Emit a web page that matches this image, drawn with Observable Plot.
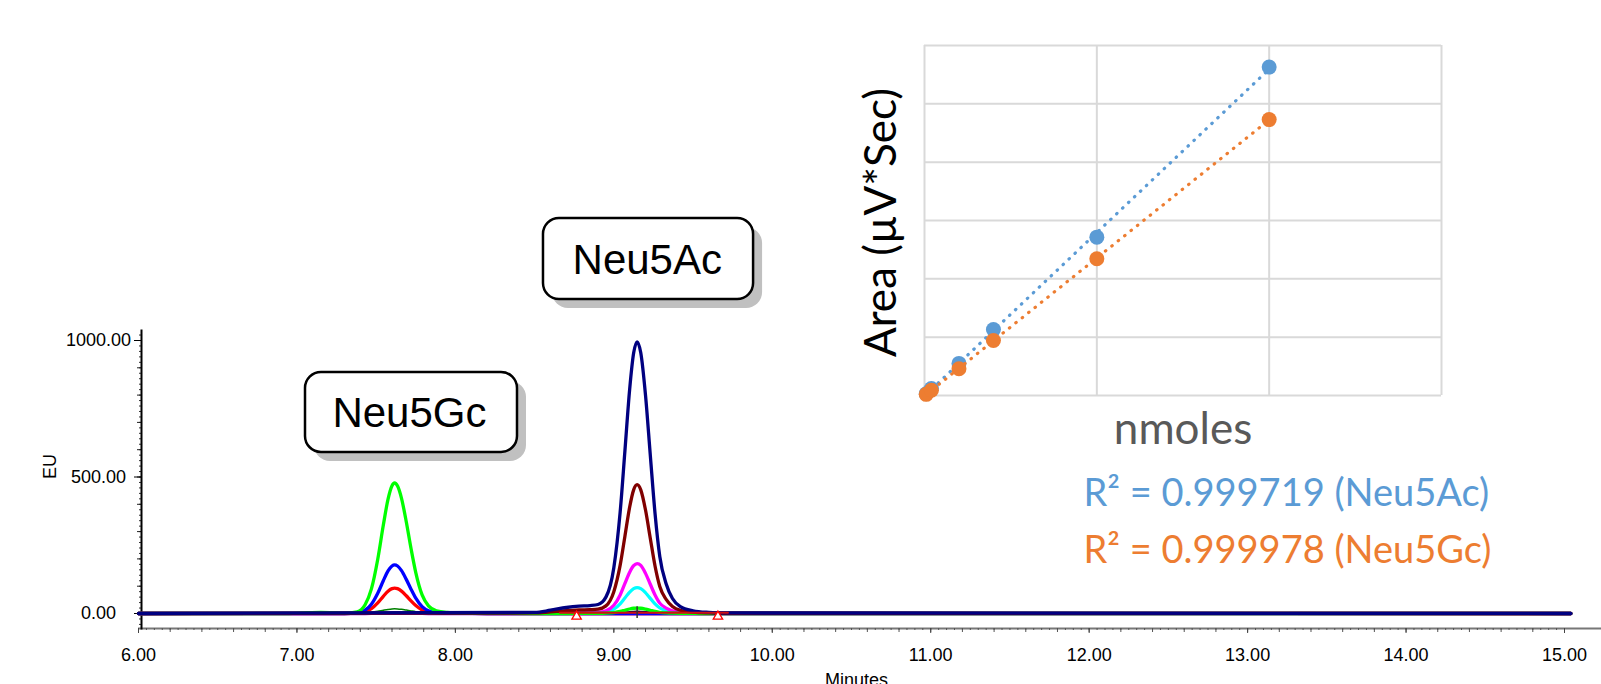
<!DOCTYPE html>
<html><head><meta charset="utf-8">
<script src="https://cdn.jsdelivr.net/npm/d3@7"></script>
<script src="https://cdn.jsdelivr.net/npm/@observablehq/plot@0.6"></script>
<style>
html,body{margin:0;padding:0;background:#fff;}
#wrap{position:relative;width:1601px;height:684px;overflow:hidden;background:#fff;}
#wrap svg{position:absolute;left:0;top:0;}
</style></head><body><div id="wrap"></div>
<script>
// ---------------- Chromatogram data (Minutes vs EU) ----------------
const xTickLabels = [6, 7, 8, 9, 10, 11, 12, 13, 14, 15];
const yTickLabels = [0, 500, 1000];
const runStart = 6.0, runEnd = 15.04;

// Neu5Gc peak window
const tGc = [7.30, 7.38, 7.43, 7.47, 7.51, 7.545, 7.575, 7.60, 7.616, 7.635, 7.66, 7.69, 7.72, 7.75, 7.79, 7.83, 7.88, 7.95, 8.05, 8.20];
const greenGc = [0.5, 6, 32, 90, 199, 323, 419, 468, 478, 467, 422, 336, 238, 150, 68, 28, 10, 4, 1.5, 0.5];
const blueGc = [0, 2.3, 12, 34, 74, 120, 156, 174, 178, 174, 157, 125, 89, 56, 25, 10, 3.6, 1.4, 0.5, 0];
const redGc = [0, 1.2, 6.2, 17.6, 38.7, 62.8, 81.6, 91, 93, 91, 82, 65, 46, 29, 13, 5.4, 1.9, 0.7, 0.3, 0];
const darkGreenGc = [2, 2.2, 3, 4.8, 8.2, 12, 15, 16.7, 17, 16.7, 15.2, 12.5, 9.5, 6.7, 4.1, 2.9, 2.3, 2.1, 2, 2];
const violetGc = [-3, -3, -2.6, -1.8, -0.5, 1.2, 2.5, 3.3, 3.5, 3.3, 2.8, 1.8, 0.7, -0.3, -1.6, -2.4, -2.8, -3, -3, -3];

// Neu5Ac peak window
const tAc = [8.50, 8.60, 8.70, 8.78, 8.85, 8.90, 8.95, 9.00, 9.04, 9.07, 9.10, 9.125, 9.147, 9.17, 9.20, 9.23, 9.26, 9.29, 9.33, 9.37, 9.42, 9.50, 9.60, 9.70];
const navyAc = [4, 12, 22, 27, 29, 33, 60, 168, 372, 596, 822, 954, 995, 955, 799, 581, 367, 209, 109, 55, 25, 10, 4, 2];
const maroonAc = [2, 6, 10, 13, 14, 16, 28, 80, 177, 283, 390, 453, 472, 453, 379, 276, 174, 99, 52, 26, 12, 5, 2, 1];
const magentaAc = [0.5, 1.5, 3, 4, 4.5, 5, 10, 30, 68, 110, 151, 175, 183, 176, 147, 107, 68, 38, 20, 10, 4.5, 2, 0.7, 0.3];
const cyanAc = [0.3, 0.8, 1.5, 2, 2.3, 2.6, 5, 16, 35.6, 57, 78.5, 91, 95, 91, 76, 55.5, 35, 20, 10.5, 5.2, 2.4, 1, 0.4, 0.2];
const greenAc = [0, 0, 0, 0.3, 0.5, 0.7, 1.5, 3.6, 7.5, 12, 16.5, 19.2, 20, 19.2, 16, 11.7, 7.4, 4.2, 2.2, 1.1, 0.5, 0.2, 0, 0];
const blackAc = [0, 0, 0, 0, 0.2, 0.3, 0.6, 1.4, 3, 4.8, 6.6, 7.7, 8, 7.7, 6.4, 4.7, 3, 1.7, 0.9, 0.4, 0.2, 0, 0, 0];

// small baseline bumps
const tGreenBump = [6.95, 7.05, 7.15, 7.25];
const greenBump = [0, 2.5, 4, 2];
const tLavender = [6.62, 6.70, 6.76, 6.82, 6.90, 11.60, 11.70, 11.80, 11.90, 12.00, 13.15, 13.25, 13.34, 13.44, 13.52];
const lavenderBumps = [0, 3, 4, 3, 0, 0, 3, 4, 3, 0, 0, 3, 4, 3, 0];

// integration marks (Neu5Ac)
const integrationStarts = [8.765, 9.657];
const integrationMarkLevel = -11;
const integrationBaseT = [8.66, 9.72];
const integrationBaseV = [3, 3];
const peakApex = [9.147];

const peakNames = ["Neu5Gc", "Neu5Ac"];

// ---------------- Calibration inset data ----------------
const nmoles = [0.01, 0.04, 0.2, 0.4, 1, 2];
const areaNeu5Ac = [0.03, 0.12, 0.55, 1.13, 2.715, 5.63];
const areaNeu5Gc = [0.02, 0.09, 0.458, 0.943, 2.345, 4.73];
const r2Values = [0.999719, 0.999978];
const r2Names = ["Neu5Ac", "Neu5Gc"];

// ---------------- styles / layout (not data) ----------------
const traceOrder = ["lavender", "violet", "darkgreen", "black", "cyan", "magenta", "red", "blue", "green", "maroon", "navy"];
const traceColor = {lavender:"#B4B4E6", violet:"#9A00CC", darkgreen:"#008000", black:"#000000", cyan:"#00FFFF",
  magenta:"#FF00FF", red:"#FF0000", blue:"#0000FF", green:"#00FF00", maroon:"#800000", navy:"#000080"};
const traceWidth = {lavender:1.5, violet:2, darkgreen:1.5, black:1.5, cyan:3.2, magenta:3.3, red:3.3, blue:3.3, green:3.3, maroon:3.3, navy:3.3};
const traceBase = {lavender:0, violet:-3, darkgreen:2, black:0, cyan:0, magenta:0, red:0, blue:0, green:0, maroon:0, navy:0};
const traceSegs = {
  lavender:[[tLavender, lavenderBumps]],
  violet:[[tGc, violetGc]],
  darkgreen:[[tGc, darkGreenGc]],
  black:[[tAc, blackAc]],
  cyan:[[tAc, cyanAc]],
  magenta:[[tAc, magentaAc]],
  red:[[tGc, redGc]],
  blue:[[tGc, blueGc]],
  green:[[tGreenBump, greenBump], [tGc, greenGc], [tAc, greenAc]],
  maroon:[[tAc, maroonAc]],
  navy:[[tAc, navyAc]]
};
const boxLayout = [
  {x1:7.054, x2:8.392, y1:590, y2:883, tx:7.710, ty:682},
  {x1:8.556, x2:9.882, y1:1150, y2:1447, tx:9.211, ty:1244}
];
const r2Offsets = [110, 167];

function traceRows(name) {
  const pts = [[runStart, traceBase[name]]];
  traceSegs[name].forEach(([ts, vs]) => ts.forEach((t, i) => pts.push([t, vs[i]])));
  pts.push([runEnd, traceBase[name]]);
  pts.sort((a, b) => a[0] - b[0]);
  return pts.map(([t, v]) => ({t, v}));
}

const AR = "Liberation Sans, Arial, sans-serif";
const fmt2 = d => d.toFixed(2);
const xMinor = d3.range(0, 181).map(i => 6 + i * 0.05);
const xMid = d3.range(0, 46).map(i => 6 + i * 0.2);
const yMinor = d3.range(-40, 1021, 20);
const yMid = d3.range(0, 1001, 100);

const main = Plot.plot({
  width: 1601, height: 684,
  marginLeft: 141, marginRight: 37, marginTop: 330, marginBottom: 56,
  x: {domain: [6, 15], range: [138, 1564]},
  y: {domain: [0, 1000], range: [613, 340]},
  style: {background: "transparent", fontFamily: AR, color: "black"},
  marks: [
    Plot.ruleY([-55], {x1: 6, x2: 15.3, stroke: "#777", strokeWidth: 2}),
    Plot.axisX(xMinor, {tickSize: 2, fill: "none", stroke: "#555", label: null}),
    Plot.axisX(xMid, {tickSize: 4, fill: "none", stroke: "#555", label: null}),
    Plot.axisX(xTickLabels, {tickSize: 5, tickPadding: 15, tickFormat: fmt2, fontSize: 18, stroke: "#444", label: null}),
    Plot.axisY(yMinor, {tickSize: 2, fill: "none", stroke: "#333", label: null}),
    Plot.axisY(yMid, {tickSize: 4, fill: "none", stroke: "#222", label: null}),
    Plot.axisY(yTickLabels, {tickSize: 7, tickPadding: 36, textAnchor: "middle", tickFormat: fmt2, fontSize: 18, label: null}),
    Plot.frame({anchor: "left", stroke: "black", strokeWidth: 2}),
    Plot.text(["EU"], {frameAnchor: "left", dx: -91, dy: -13, rotate: -90, textAnchor: "middle", fontSize: 18, fontFamily: AR}),
    Plot.text(["Minutes"], {frameAnchor: "bottom", dx: 3.5, dy: 57, lineAnchor: "bottom", fontSize: 18, fontFamily: AR}),
    ...traceOrder.map(name => Plot.line(traceRows(name), {
      x: "t", y: "v", stroke: traceColor[name], strokeWidth: traceWidth[name], curve: "monotone-x"
    })),
    Plot.line(integrationBaseT.map((t, i) => ({t, v: integrationBaseV[i]})), {x: "t", y: "v", stroke: "#D01010", strokeWidth: 2}),
    Plot.ruleX(peakApex, {y1: -18, y2: 25, stroke: "#333", strokeWidth: 1.5}),
    Plot.dot(integrationStarts, {x: d => d, y: () => integrationMarkLevel, symbol: "triangle", r: 3.5, stroke: "red", fill: "white", strokeWidth: 1.3}),
    // peak label boxes
    Plot.rect(boxLayout, {x1: "x1", x2: "x2", y1: "y1", y2: "y2", fill: "#C0C0C0", dx: 9, dy: 9, rx: 16}),
    Plot.rect(boxLayout, {x1: "x1", x2: "x2", y1: "y1", y2: "y2", fill: "white", stroke: "black", strokeWidth: 2.5, rx: 16}),
    Plot.text(peakNames, {x: (d, i) => boxLayout[i].tx, y: (d, i) => boxLayout[i].ty, text: d => d, lineAnchor: "bottom", fontSize: 42, fontFamily: AR, fill: "black"})
  ]
});

const blue = "#5B9BD5", orange = "#ED7D31";
const r2Colors = [blue, orange];
const calRows = s => nmoles.map((x, i) => ({x, y: s[i]}));
const LT = "Lato, 'Open Sans', sans-serif";
const inset = Plot.plot({
  width: 1601, height: 684,
  marginLeft: 924, marginRight: 160, marginTop: 45, marginBottom: 289,
  x: {domain: [0, 3], axis: null},
  y: {domain: [0, 6], axis: null},
  style: {background: "transparent", fontFamily: LT},
  marks: [
    Plot.gridX([0, 1, 2, 3], {stroke: "#D9D9D9", strokeOpacity: 1, strokeWidth: 2}),
    Plot.gridY([0, 1, 2, 3, 4, 5, 6], {stroke: "#D9D9D9", strokeOpacity: 1, strokeWidth: 2}),
    Plot.linearRegressionY(calRows(areaNeu5Ac), {x: "x", y: "y", stroke: blue, ci: 0, strokeWidth: 3.2, strokeDasharray: "0.5 7.7", strokeLinecap: "round"}),
    Plot.dot(calRows(areaNeu5Ac), {x: "x", y: "y", fill: blue, r: 7.5}),
    Plot.linearRegressionY(calRows(areaNeu5Gc), {x: "x", y: "y", stroke: orange, ci: 0, strokeWidth: 3.2, strokeDasharray: "0.5 7.7", strokeLinecap: "round"}),
    Plot.dot(calRows(areaNeu5Gc), {x: "x", y: "y", fill: orange, r: 7.5}),
    Plot.text(["Area (µV*Sec)"], {frameAnchor: "left", dx: -29, dy: 2, rotate: -90, textAnchor: "middle", lineAnchor: "bottom", fontSize: 44, fontFamily: LT, fill: "black"}),
    Plot.text(["nmoles"], {frameAnchor: "bottom", dx: 0, dy: 48, lineAnchor: "bottom", fontSize: 44, fontFamily: LT, fill: "#595959"}),
    ...r2Values.map((v, i) => Plot.text([v], {frameAnchor: "bottom-left", dx: 159, dy: r2Offsets[i],
      text: d => `R² = ${d} (${r2Names[i]})`, textAnchor: "start", lineAnchor: "bottom", fontSize: 38, fontFamily: LT, fill: r2Colors[i]}))
  ]
});

document.getElementById("wrap").append(main, inset);
</script></body></html>
